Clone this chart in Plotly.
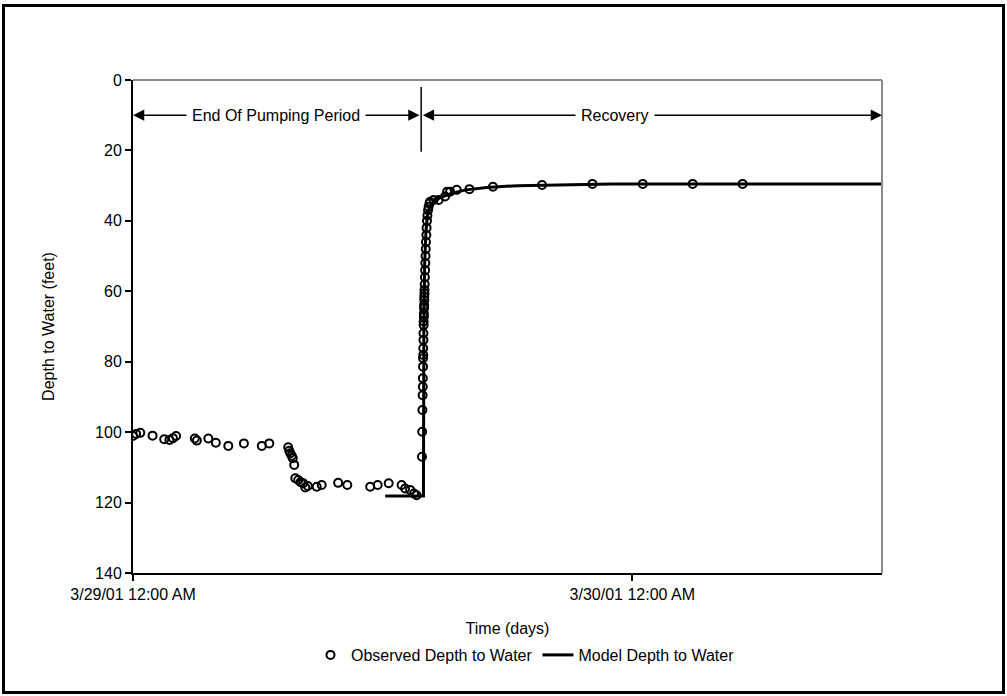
import pandas as pd
import plotly.graph_objects as go

# Elapsed time is in hours after 3/29/01 12:00 AM, depth to water in feet.
START = pd.Timestamp("2001-03-29 00:00")

obs_hours = [
    0.00, 0.15, 0.35, 0.94, 1.50, 1.75, 1.92, 2.07, 2.97, 3.07, 3.62, 3.98,
    4.58, 5.33, 6.19, 6.55, 7.46, 7.51, 7.56, 7.63, 7.68, 7.75, 7.80, 7.94,
    8.06, 8.18, 8.28, 8.40, 8.83, 9.07, 9.86, 10.30, 11.40, 11.76, 12.29,
    12.91, 13.08, 13.32, 13.51, 13.63,
    13.89, 13.90, 13.91, 13.92, 13.93, 13.93, 13.94, 13.94, 13.95, 13.95,
    13.96, 13.96, 13.97, 13.97, 13.98, 13.98, 13.99, 13.99, 14.00, 14.00,
    14.01, 14.01, 14.02, 14.03, 14.04, 14.05, 14.06, 14.07, 14.08, 14.10,
    14.11, 14.13, 14.15, 14.18, 14.21, 14.25, 14.28, 14.45, 14.69, 15.00,
    15.10, 15.24, 15.56, 16.17, 17.30, 19.66, 22.08, 24.50, 26.90, 29.30,
]
obs_depth = [
    101.1, 100.5, 100.2, 101.0, 102.0, 102.2, 101.7, 101.1, 101.8, 102.4, 101.8, 103.0,
    103.9, 103.2, 103.9, 103.2, 104.3, 105.3, 106.0, 106.7, 107.4, 109.3, 113.1, 113.6,
    114.2, 114.5, 115.7, 115.3, 115.5, 115.0, 114.4, 115.0, 115.5, 115.0, 114.5,
    115.0, 116.0, 116.4, 117.4, 117.9,
    107.0, 99.9, 93.7, 89.5, 87.1, 84.7, 81.4, 79.0, 78.1, 76.2,
    73.8, 71.9, 69.6, 68.6, 67.2, 66.3, 64.8, 63.9, 62.5, 61.5,
    60.6, 59.6, 58.0, 56.0, 54.0, 52.0, 50.0, 48.0, 46.0, 44.0,
    42.0, 40.0, 38.5, 37.0, 36.0, 35.0, 34.6, 34.1, 34.1, 33.1,
    31.7, 31.7, 31.2, 31.0, 30.3, 29.8, 29.5, 29.5, 29.5, 29.5,
]

model_hours = [12.12, 13.96, 13.98, 14.02, 14.08, 14.15, 14.25, 14.45, 14.80,
               15.30, 16.00, 17.00, 18.50, 20.50, 23.00, 36.00]
model_depth = [118.1, 118.1, 70.0, 52.0, 43.0, 38.5, 36.0, 34.5, 33.3,
               32.2, 31.2, 30.5, 30.0, 29.7, 29.5, 29.5]

# Period markers (hours): end of pumping / start of recovery, end of record
pump_stop_h = 13.85
record_end_h = 36.0
arrow_depth = 10
divider_top, divider_bottom = 2.0, 20.4

y_ticks = [0, 20, 40, 60, 80, 100, 120, 140]


def t(h):
    return START + pd.to_timedelta(h, unit="h")


FONT = "Liberation Sans, Arial, sans-serif"
fs = 16

fig = go.Figure()
fig.add_trace(go.Scatter(
    x=[t(h) for h in obs_hours], y=obs_depth, mode="markers",
    name="Observed Depth to Water",
    marker=dict(symbol="circle-open", size=8, color="black", line=dict(width=2, color="black")),
))
fig.add_trace(go.Scatter(
    x=[t(h) for h in model_hours], y=model_depth, mode="lines",
    name="Model Depth to Water",
    line=dict(color="black", width=3),
))

L, R, T, B = 133, 125, 80, 123
W, H = 1007, 696
pw, ph = W - L - R, H - T - B


def px(xp):
    return (xp - L) / pw


def py(yp):
    return (H - B - yp) / ph


fig.update_layout(
    width=W, height=H,
    margin=dict(l=L, r=R, t=T, b=B),
    paper_bgcolor="white", plot_bgcolor="white",
    font=dict(family=FONT, size=fs, color="black"),
    showlegend=True,
    legend=dict(orientation="h", x=px(310), xanchor="left", y=py(655), yanchor="middle",
                font=dict(size=fs, color="black"), bgcolor="rgba(0,0,0,0)", itemwidth=31),
    xaxis=dict(
        type="date", range=[t(0), t(record_end_h)],
        tick0=t(0), dtick=86400000, tickformat="%-m/%-d/%y %-I:%M %p",
        showgrid=False, zeroline=False, showline=True, linecolor="black", linewidth=2,
        ticks="outside", ticklen=6, tickwidth=1.5, tickcolor="black",
        tickfont=dict(color="black"),
        title=dict(text="Time (days)", font=dict(size=fs, color="black"), standoff=21),
    ),
    yaxis=dict(
        range=[140, 0], tickvals=y_ticks,
        showgrid=False, zeroline=False, showline=True, linecolor="black", linewidth=2,
        ticks="outside", ticklen=6, tickwidth=1.5, tickcolor="black",
        tickfont=dict(color="black"),
        title=dict(text="Depth to Water (feet)", font=dict(size=fs, color="black"), standoff=36),
    ),
)

# Plot-area border on the top and right sides
fig.add_shape(type="line", xref="paper", yref="paper", x0=0, x1=1, y0=1, y1=1,
              line=dict(color="#8a8a8a", width=2))
fig.add_shape(type="line", xref="paper", yref="paper", x0=1, x1=1, y0=0, y1=1,
              line=dict(color="#8a8a8a", width=2))

# Outer chart frame
fig.add_shape(type="rect", xref="paper", yref="paper",
              x0=px(3.5), x1=px(1003.5), y0=py(692.5), y1=py(5.5),
              line=dict(color="black", width=3), fillcolor="rgba(0,0,0,0)")

# Divider between pumping and recovery periods
fig.add_shape(type="line", xref="x", yref="y", x0=t(pump_stop_h), x1=t(pump_stop_h),
              y0=divider_top, y1=divider_bottom, line=dict(color="black", width=1.5))


def span(h0, h1, label, h_mid):
    # two arrows from the label outwards, then the label over them
    for tip, tail in ((h0, h_mid), (h1, h_mid)):
        fig.add_annotation(x=t(tip), y=arrow_depth, ax=t(tail), ay=arrow_depth,
                           xref="x", yref="y", axref="x", ayref="y", text="",
                           showarrow=True, arrowhead=2, arrowsize=1.5, arrowwidth=1.5,
                           arrowcolor="black")
    fig.add_annotation(x=t(h_mid), y=arrow_depth, xref="x", yref="y", text=label,
                       showarrow=False, bgcolor="white", borderpad=5,
                       font=dict(size=fs, color="black"))


span(0.0, pump_stop_h - 0.08, "End Of Pumping Period", 6.88)
span(pump_stop_h + 0.08, record_end_h, "Recovery", 23.18)

fig.write_html("out.html")
